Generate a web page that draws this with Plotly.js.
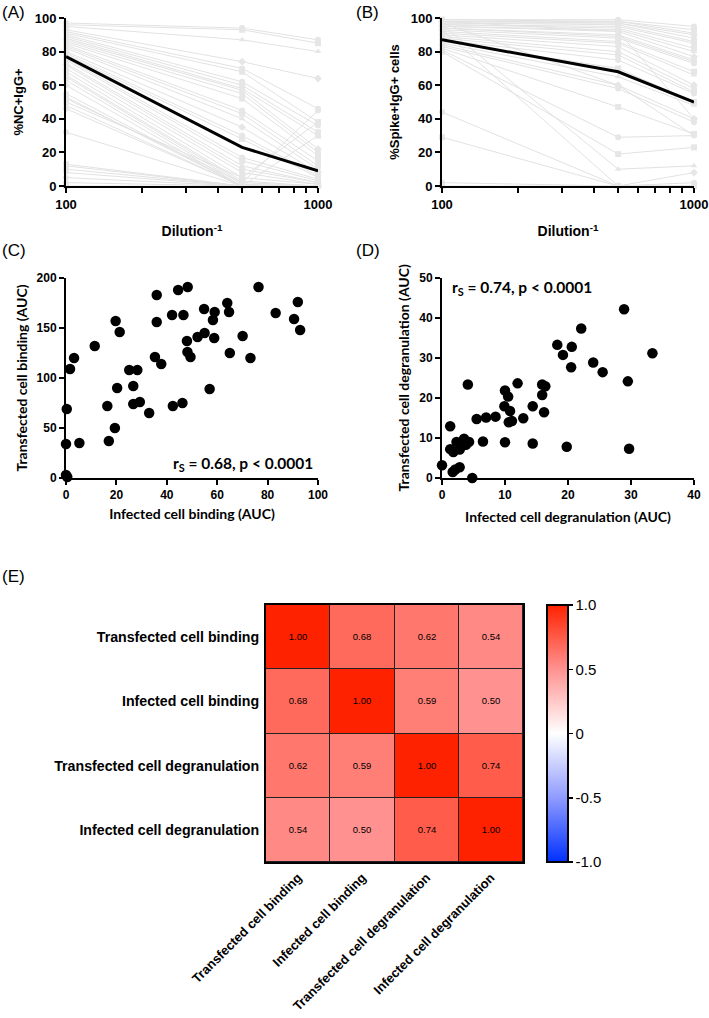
<!DOCTYPE html>
<html>
<head>
<meta charset="utf-8">
<script src="https://cdn.plot.ly/plotly-3.0.1.min.js"></script>
<style>html,body{margin:0;padding:0;background:#fff;}#chart{width:709px;height:1018px;}</style>
</head>
<body>
<div id="chart"></div>
<script>
// ---------- DATA ----------
const dilutions = [100, 500, 1000];

// Panel A: %NC+IgG+ per donor at dilution 100, 500, 1000
const ncDonors = [
  [97,94,87],[96,93,85],[95,87,80],[93,74,64],[92,70,46],[91,68,38],[90,62,36],[89,60,32],
  [88,58,30],[87,57,22],[86,55,20],[85,52,18],[84,45,15],[83,43,12],[82,40,10],[80,35,8],
  [79,30,6],[78,28,5],[76,17,4],[75,15,3],[73,12,2],[72,10,2],[70,8,1],[68,5,1],
  [66,3,0],[65,2,0],[63,1,0],[60,0,0],[55,0,0],[53,0,30],[52,2,45],[50,5,38],
  [48,0,0],[46,0,0],[32,0,0],[13,0,0],[12,0,0],[10,0,0],[8,0,0],[5,0,0],[2,0,0],[0,0,0]
];
const ncMean = [77, 23, 9];

// Panel B: %Spike+IgG+ cells per donor
const spikeDonors = [
  [99,99,95],[99,98,93],[98,98,91],[98,97,90],[97,97,88],[97,96,86],[96,95,85],[96,94,82],
  [95,93,80],[95,92,77],[94,90,75],[94,89,74],[93,88,73],[92,86,68],[91,85,66],[90,83,60],
  [89,80,58],[88,78,56],[87,75,55],[86,70,50],[85,65,48],[84,60,40],[83,58,38],[82,47,31],
  [81,29,30],[80,19,23],[96,10,12],[93,0,8],[44,0,2],[29,0,0],[2,0,0],[0,0,0],[97,60,30],[98,92,40]
];
const spikeMean = [87, 68, 50];

// Panel C: binding AUC
const infBinding = [0,0.5,0,5.3,0.3,1.6,3.2,11.4,19.7,21.3,17,19.4,16.4,20.3,25.1,28.3,26.7,26.7,29.3,33,
  35.3,37.8,36,36,42.1,44.5,48.3,46.6,48,48.2,49.4,42.4,46.2,52.2,55,54.8,58.3,59,58.8,57,
  64,64.7,65,70.1,73.2,76.4,83.2,90.5,92,92.9];
const trBinding = [3,1,34,35,69,109,120,132,157,146,37,50,72,90,108,108,92,74,76,65,
  121,114,156,183,163,188,191,163,137,126,121,72,75,141,145,169,158,166,140,89,
  175,166,125,142,120,191,165,159,176,148];

// Panel D: degranulation AUC
const infDegran = [0,1.3,1.3,1.8,1.7,2.1,2.8,2.3,2.8,3.3,3.5,3.8,4.3,4.1,4.8,5.5,6.5,7,8.5,9.9,
  10,10.5,10.8,10.6,11.1,10,12,12.9,14.4,14.4,15.9,16.4,15.9,16.2,18.3,19.2,20.6,20.5,19.8,22.1,
  24,25.5,28.9,29.5,29.7,33.4];
const trDegran = [3.2,12.9,7.2,6.5,1.5,2.1,2.7,9,7.1,8.1,9.8,8.3,9,23.3,0,14.7,9.1,15.1,15.3,17.9,
  21.8,20.3,16.7,13.9,14.2,8.9,23.6,14.9,17.9,8.6,23.3,22.9,20.7,16.4,33.2,30.7,32.7,27.6,7.8,37.3,
  28.8,26.4,42.1,24.1,7.3,31.1];

// Panel E: Spearman correlation matrix
const corrLabels = ['Transfected cell binding','Infected cell binding','Transfected cell degranulation','Infected cell degranulation'];
const corrMatrix = [
  [1.00,0.68,0.62,0.54],
  [0.68,1.00,0.59,0.50],
  [0.62,0.59,1.00,0.74],
  [0.54,0.50,0.74,1.00]
];
const colorbarTicks = [-1, -0.5, 0, 0.5, 1];
const colorbarText = ['-1.0','-0.5','0','0.5','1.0'];
const majorDilutionTicks = [100, 1000];
const minorDilutionTicks = [200, 300, 400, 500, 600, 700, 800, 900];

// ---------- STYLE ----------
const W = 709, H = 1018;
const px = v => v / W;
const py = v => 1 - v / H;
const ARIAL = 'Liberation Sans, Arial, sans-serif';
const CALIBRI = 'Lato, Carlito, Calibri, sans-serif';
const symbols = ['circle','square','triangle-up','diamond','circle','square'];

function baseAxis(extra) {
  return Object.assign({
    showline: true, linecolor: 'black', linewidth: 2,
    ticks: 'outside', ticklen: 5, tickwidth: 2, tickcolor: 'black',
    showgrid: false, zeroline: false,
    tickfont: {family: ARIAL, size: 13, weight: 700, color: 'black'}
  }, extra);
}

const traces = [];
function donorTraces(donors, mean, xa, ya) {
  donors.forEach((d, i) => {
    traces.push({
      x: dilutions, y: d, xaxis: xa, yaxis: ya, type: 'scatter', mode: 'lines+markers',
      line: {color: '#e2e2e2', width: 1},
      marker: {color: '#e6e6e6', size: 6, symbol: symbols[i % symbols.length]},
      cliponaxis: false, hoverinfo: 'skip'
    });
  });
  traces.push({
    x: dilutions, y: mean, xaxis: xa, yaxis: ya, type: 'scatter', mode: 'lines',
    line: {color: 'black', width: 3}, cliponaxis: false
  });
}
donorTraces(ncDonors, ncMean, 'x', 'y');
donorTraces(spikeDonors, spikeMean, 'x2', 'y2');

traces.push({
  x: infBinding, y: trBinding, xaxis: 'x3', yaxis: 'y3', type: 'scatter', mode: 'markers',
  marker: {color: 'black', size: 10.5}, cliponaxis: false
});
traces.push({
  x: infDegran, y: trDegran, xaxis: 'x4', yaxis: 'y4', type: 'scatter', mode: 'markers',
  marker: {color: 'black', size: 10.5}, cliponaxis: false
});

traces.push({
  type: 'heatmap', z: corrMatrix, x: corrLabels, y: corrLabels, xaxis: 'x5', yaxis: 'y5',
  zmin: -1, zmax: 1, xgap: 1, ygap: 1,
  colorscale: [[0,'#0030ff'],[0.25,'#8f9bff'],[0.5,'#ffffff'],[0.75,'#ff9290'],[1,'#ff2200']],
  texttemplate: '%{z:.2f}', textfont: {family: ARIAL, size: 9.5, color: 'black'},
  colorbar: {
    x: px(547), xanchor: 'left', y: py(733.5), yanchor: 'middle',
    lenmode: 'pixels', len: 257, thickness: 21, thicknessmode: 'pixels',
    outlinewidth: 2, outlinecolor: 'black',
    tickvals: colorbarTicks, ticktext: colorbarText, ticks: 'outside', ticklen: 4, tickwidth: 1.5, tickcolor: 'black',
    tickfont: {family: ARIAL, size: 15, color: 'black'}, xpad: 0, ypad: 0
  }
});

function logAxis(dom, anchor) {
  return baseAxis({domain: dom, anchor: anchor, type: 'log', range: [2, 3],
    tickmode: 'array', tickvals: majorDilutionTicks,
    minor: {tickmode: 'array', tickvals: minorDilutionTicks, ticks: 'outside', ticklen: 5, tickwidth: 2, tickcolor: 'black', showgrid: false},
    title: {text: 'Dilution<sup>-1</sup>', font: {family: ARIAL, size: 14, weight: 700, color: 'black'}, standoff: 16}});
}

const layout = {
  width: W, height: H, margin: {l:0, r:0, t:0, b:0},
  paper_bgcolor: 'white', plot_bgcolor: 'white', showlegend: false,
  xaxis: logAxis([px(66), px(318)], 'y'),
  yaxis: baseAxis({domain: [py(186), py(18)], anchor: 'x', range: [0, 100], tickvals: [0,20,40,60,80,100],
    title: {text: '%NC+IgG+', font: {family: ARIAL, size: 13, weight: 700, color: 'black'}, standoff: 8}}),
  xaxis2: logAxis([px(442), px(694)], 'y2'),
  yaxis2: baseAxis({domain: [py(186), py(18)], anchor: 'x2', range: [0, 100], tickvals: [0,20,40,60,80,100],
    title: {text: '%Spike+IgG+ cells', font: {family: ARIAL, size: 13, weight: 700, color: 'black'}, standoff: 8}}),
  xaxis3: baseAxis({domain: [px(66), px(318)], anchor: 'y3', range: [0, 100], tickvals: [0,20,40,60,80,100],
    tickfont: {family: ARIAL, size: 12, weight: 700, color: 'black'},
    title: {text: 'Infected cell binding (AUC)', font: {family: CALIBRI, size: 14, weight: 700, color: 'black'}, standoff: 8}}),
  yaxis3: baseAxis({domain: [py(478), py(278)], anchor: 'x3', range: [0, 200], tickvals: [0,50,100,150,200],
    tickfont: {family: ARIAL, size: 12, weight: 700, color: 'black'},
    title: {text: 'Transfected cell binding (AUC)', font: {family: CALIBRI, size: 14, weight: 700, color: 'black'}, standoff: 6}}),
  xaxis4: baseAxis({domain: [px(442), px(694)], anchor: 'y4', range: [0, 40], tickvals: [0,10,20,30,40],
    tickfont: {family: ARIAL, size: 12, weight: 700, color: 'black'},
    title: {text: 'Infected cell degranulation (AUC)', font: {family: CALIBRI, size: 14, weight: 700, color: 'black'}, standoff: 11}}),
  yaxis4: baseAxis({domain: [py(478), py(277.5)], anchor: 'x4', range: [0, 50], tickvals: [0,10,20,30,40,50],
    tickfont: {family: ARIAL, size: 12, weight: 700, color: 'black'},
    title: {text: 'Transfected cell degranulation (AUC)', font: {family: CALIBRI, size: 14, weight: 700, color: 'black'}, standoff: 6}}),
  xaxis5: {domain: [px(266), px(523)], anchor: 'y5', type: 'category', showline: true, mirror: true,
    linecolor: 'black', linewidth: 2, ticks: '', tickangle: -45, showgrid: false, zeroline: false, ticklabelstandoff: 1,
    tickfont: {family: ARIAL, size: 13, weight: 700, color: 'black'}},
  yaxis5: {domain: [py(862), py(605)], anchor: 'x5', type: 'category', autorange: 'reversed', showline: true, mirror: true,
    linecolor: 'black', linewidth: 2, ticks: '', showgrid: false, zeroline: false, ticklabelstandoff: 2,
    tickfont: {family: ARIAL, size: 14.2, weight: 700, color: 'black'}},
  shapes: [
    {type: 'rect', xref: 'x5 domain', yref: 'y5 domain', x0: 0, x1: 1, y0: 0, y1: 1,
     fillcolor: '#222', line: {width: 0}, layer: 'below'}
  ],
  annotations: [
    {text: '(A)', x: 0, y: py(13), xref: 'paper', yref: 'paper', xanchor: 'left', yanchor: 'middle', showarrow: false,
     font: {family: ARIAL, size: 17, color: 'black'}},
    {text: '(B)', x: px(354), y: py(13), xref: 'paper', yref: 'paper', xanchor: 'left', yanchor: 'middle', showarrow: false,
     font: {family: ARIAL, size: 17, color: 'black'}},
    {text: '(C)', x: 0, y: py(250), xref: 'paper', yref: 'paper', xanchor: 'left', yanchor: 'middle', showarrow: false,
     font: {family: ARIAL, size: 17, color: 'black'}},
    {text: '(D)', x: px(354), y: py(250), xref: 'paper', yref: 'paper', xanchor: 'left', yanchor: 'middle', showarrow: false,
     font: {family: ARIAL, size: 17, color: 'black'}},
    {text: '(E)', x: 0, y: py(576), xref: 'paper', yref: 'paper', xanchor: 'left', yanchor: 'middle', showarrow: false,
     font: {family: ARIAL, size: 17, color: 'black'}},
    {text: 'r<sub>S</sub> = 0.68, p < 0.0001', xref: 'x3 domain', yref: 'y3 domain', x: 0.99, y: 0.07,
     xanchor: 'right', yanchor: 'middle', showarrow: false,
     font: {family: CALIBRI, size: 15.5, weight: 700, color: 'black'}},
    {text: 'r<sub>S</sub> = 0.74, p < 0.0001', xref: 'x4 domain', yref: 'y4 domain', x: 0.03, y: 0.95,
     xanchor: 'left', yanchor: 'middle', showarrow: false,
     font: {family: CALIBRI, size: 15.5, weight: 700, color: 'black'}}
  ]
};

Plotly.newPlot('chart', traces, layout, {displayModeBar: false, staticPlot: true});
</script>
</body>
</html>
